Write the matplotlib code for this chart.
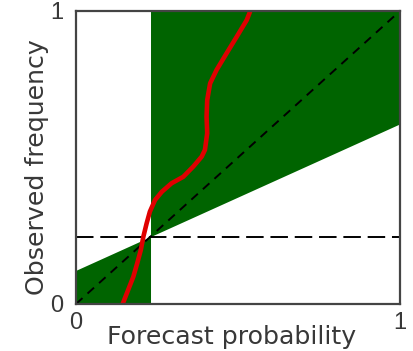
import numpy as np
import matplotlib
matplotlib.use("Agg")
import matplotlib.pyplot as plt

plt.rcParams['font.family'] = ['Liberation Sans', 'DejaVu Sans']

# climatological frequency (vertical / horizontal reference)
clim = 0.23

# reliability curve
curve_x = [0.144, 0.161, 0.177, 0.189, 0.200, 0.208, 0.218, 0.228, 0.244, 0.265,
           0.295, 0.331, 0.362, 0.388, 0.398, 0.405, 0.403, 0.405, 0.414, 0.434,
           0.465, 0.496, 0.527, 0.545]
curve_y = [0.0, 0.048, 0.093, 0.139, 0.184, 0.230, 0.275, 0.315, 0.355, 0.383,
           0.412, 0.434, 0.469, 0.503, 0.526, 0.583, 0.639, 0.696, 0.753, 0.799,
           0.856, 0.912, 0.969, 1.02]

tick_labels = ['0', '1']
x_label = 'Forecast probability'
y_label = 'Observed frequency'

green = '#006400'
text_col = '#383838'

fig = plt.figure(figsize=(4.13, 3.51), dpi=100)
ax = fig.add_axes([0.184, 0.134, 0.7845, 0.8347])

# skill region: between the no-skill line and the edges
xl = np.array([0, clim])
xr = np.array([clim, 1])
ax.fill_between(xl, 0, (xl + clim) / 2, color=green, lw=0)
ax.fill_between(xr, (xr + clim) / 2, 1, color=green, lw=0)

ax.plot([0, 1], [0, 1], color='black', lw=1.4, dashes=(4.5, 3.5))
ax.plot([0, 1], [clim, clim], color='black', lw=1.4, dashes=(9, 3.5))

ax.plot(curve_x, curve_y, color='#e00000', lw=3.3, solid_capstyle='butt',
        solid_joinstyle='round')

ax.set_xlim(0, 1)
ax.set_ylim(0, 1)
ax.set_xticks([0, 1])
ax.set_yticks([0, 1])
ax.set_xticklabels(tick_labels, fontsize=17, color=text_col)
ax.set_yticklabels(tick_labels, fontsize=17, color=text_col)
ax.tick_params(axis='y', length=0, pad=9)
ax.tick_params(axis='x', length=0, pad=6)
ax.set_xlabel(x_label, fontsize=18.2, color=text_col, family='DejaVu Sans')
ax.xaxis.set_label_coords(0.48, -0.071)
ax.set_ylabel(y_label, fontsize=18.2, color=text_col, family='DejaVu Sans')
ax.yaxis.set_label_coords(-0.084, 0.468)

for s in ax.spines.values():
    s.set_color('#444444')
    s.set_linewidth(1.6)
    s.set_zorder(5)

fig.savefig('out.png', dpi=100)
